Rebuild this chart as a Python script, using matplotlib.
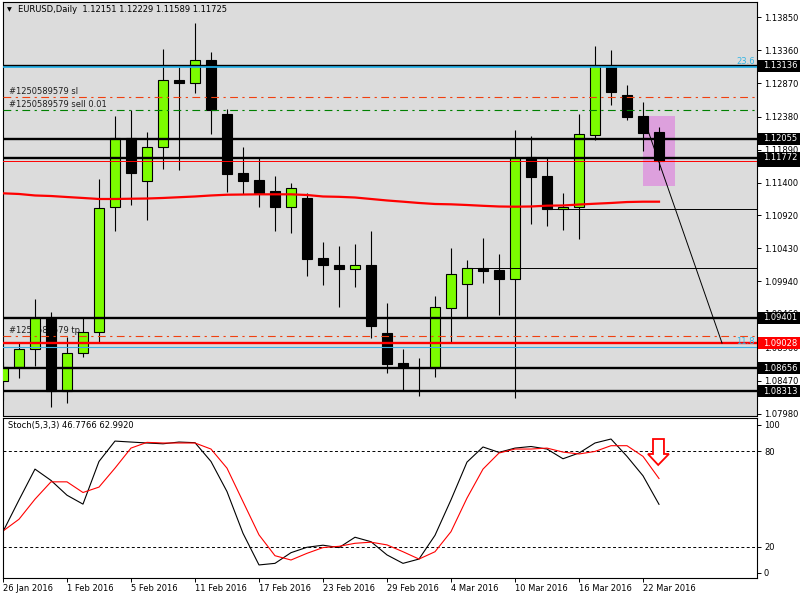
import matplotlib
matplotlib.use('Agg')
import matplotlib.pyplot as plt
from matplotlib.patches import Rectangle, Polygon
import numpy as np
import pandas as pd

# EURUSD daily bars, 26 Jan - 23 Mar 2016
dates = pd.bdate_range('2016-01-26', '2016-03-23')
opens = [1.08472, 1.08679, 1.08936, 1.09395, 1.08324, 1.08877, 1.09188, 1.11038, 1.12059, 1.11432,
         1.11926, 1.12922, 1.12882, 1.13218, 1.12419, 1.11546, 1.11442, 1.11279, 1.11047, 1.11176,
         1.10288, 1.10184, 1.10129, 1.10184, 1.09178, 1.08734, 1.08660, 1.08664, 1.09552, 1.09907,
         1.10135, 1.10106, 1.09981, 1.11787, 1.11501, 1.11008, 1.11047, 1.12112, 1.13129, 1.12700,
         1.12389, 1.12151]
highs = [1.08753, 1.09030, 1.09676, 1.09493, 1.09123, 1.09395, 1.11452, 1.12389, 1.12478, 1.12152,
         1.13381, 1.13119, 1.13761, 1.13336, 1.12493, 1.11930, 1.11772, 1.11501, 1.11398, 1.11250,
         1.10524, 1.10465, 1.10495, 1.10687, 1.09622, 1.08941, 1.08808, 1.09725, 1.10436, 1.10258,
         1.10584, 1.10347, 1.12182, 1.12093, 1.11772, 1.11254, 1.12419, 1.13425, 1.13366, 1.12848,
         1.12596, 1.12229]
lows = [1.08186, 1.08507, 1.08689, 1.08087, 1.08137, 1.08827, 1.09049, 1.10692, 1.11072, 1.10850,
        1.11605, 1.11590, 1.12734, 1.12123, 1.11264, 1.11235, 1.11047, 1.10692, 1.10662, 1.10026,
        1.09892, 1.09567, 1.09863, 1.09108, 1.08590, 1.08334, 1.08245, 1.08531, 1.09049, 1.09404,
        1.09922, 1.09444, 1.08220, 1.10795, 1.10761, 1.10702, 1.10569, 1.12034, 1.12552, 1.12330,
        1.11871, 1.11589]
closes = [1.08679, 1.08936, 1.09395, 1.08324, 1.08877, 1.09188, 1.11023, 1.12059, 1.11550, 1.11926,
          1.12918, 1.12882, 1.13214, 1.12478, 1.11531, 1.11432, 1.11254, 1.11047, 1.11319, 1.10277,
          1.10188, 1.10129, 1.10180, 1.09286, 1.08723, 1.08670, 1.08656, 1.09562, 1.10046, 1.10135,
          1.10095, 1.09981, 1.11772, 1.11491, 1.11008, 1.11047, 1.12123, 1.13129, 1.12749, 1.12374,
          1.12142, 1.11725]
ma = [1.11245, 1.11235, 1.11213, 1.11205, 1.11190, 1.11176, 1.11161, 1.11161, 1.11165, 1.11168,
      1.11176, 1.11187, 1.11198, 1.11213, 1.11224, 1.11227, 1.11230, 1.11230, 1.11230, 1.11220,
      1.11198, 1.11193, 1.11183, 1.11161, 1.11139, 1.11121, 1.11102, 1.11087, 1.11082, 1.11072,
      1.11060, 1.11050, 1.11047, 1.11050, 1.11062, 1.11065, 1.11079, 1.11091, 1.11102, 1.11116,
      1.11121, 1.11121]
stoch_k = [29.6, 49.5, 68.9, 61.8, 52.5, 46.9, 73.7, 86.5, 85.9, 85.3, 84.8, 85.9, 85.5, 73.7,
           54.8, 28.6, 8.7, 9.7, 16.4, 19.8, 21.1, 19.6, 26.1, 23.3, 15.0, 9.7, 12.4, 27.3,
           49.6, 73.3, 82.8, 79.4, 82.1, 83.1, 81.5, 75.4, 79.0, 85.3, 87.8, 76.9, 64.7, 46.7766]
stoch_d = [30.0, 37.4, 50.0, 60.9, 60.9, 54.2, 57.6, 69.5, 82.1, 85.7, 85.3, 85.3, 85.3, 81.5,
           69.5, 48.5, 27.6, 14.5, 11.8, 16.0, 19.6, 20.4, 22.3, 23.0, 21.3, 17.0, 12.4, 17.0,
           29.6, 50.7, 68.9, 79.0, 81.5, 81.5, 82.1, 79.6, 78.4, 80.0, 83.6, 83.6, 76.9, 62.9920]

price_ticks = [1.13850, 1.13360, 1.12870, 1.12380, 1.11890, 1.11400, 1.10920, 1.10430,
               1.09940, 1.09460, 1.08960, 1.08470, 1.07980]
# horizontal levels
thick_levels = [1.13136, 1.12055, 1.11772, 1.09401, 1.08656, 1.08313]
red_level = 1.09028
bid_level = 1.11725
fib_levels = {'23.6': 1.13115, '11.8': 1.08966}
sl_level, sell_level, tp_level = 1.12666, 1.12474, 1.09129
order_id = '#1250589579'
ray_levels = [(34, 1.11008), (29, 1.10135)]
trend = ([40.2, 44.94], [1.12250, 1.09028])
box_x, box_p = (40, 42), (1.11358, 1.12389)
boxed = [(1.13136, 'black'), (1.12055, 'black'), (1.11725, 'black'), (1.11772, 'black'),
         (1.09401, 'black'), (1.09028, 'red'), (1.08656, 'black'), (1.08313, 'black')]

W, H = 800, 600
FS = 6
plt.rcParams['font.family'] = 'DejaVu Sans'


def fig_box(x0, y0, x1, y1):
    return [x0 / W, 1 - y1 / H, (x1 - x0) / W, (y1 - y0) / H]


fig = plt.figure(figsize=(8, 6), dpi=100)
fig.patch.set_facecolor('white')

# --- main price panel ---
ax = fig.add_axes(fig_box(2.5, 2, 757, 415.5))
ax.set_facecolor('#DCDCDC')
ax.set_xlim(-0.03, 47.125)
ax.set_ylim(1.07957, 1.14076)

x = np.arange(len(opens))
o, h, l, c = map(np.array, (opens, highs, lows, closes))
up = c >= o
bottom = np.minimum(o, c)
height = np.maximum(np.abs(c - o), 0.00005)

ax.add_patch(Rectangle((box_x[0], box_p[0]), box_x[1] - box_x[0], box_p[1] - box_p[0],
                       facecolor='#DDA0DD', edgecolor='none', zorder=1))

ax.vlines(x, l, h, color='black', lw=0.8, zorder=3)
ax.bar(x[up], height[up], bottom=bottom[up], width=0.62, color='#7CFC00',
       edgecolor='black', linewidth=0.8, zorder=4)
ax.bar(x[~up], height[~up], bottom=bottom[~up], width=0.62, color='black',
       edgecolor='black', linewidth=0.8, zorder=4)

dashdot = (0, (7, 4, 2, 4))
for lv in thick_levels:
    ax.axhline(lv, color='black', lw=1.7, zorder=5)
ax.axhline(fib_levels['23.6'], color='#22B4EE', lw=1.2, zorder=5)
ax.axhline(fib_levels['11.8'], color='#3AB0E8', lw=0.8, zorder=5)
ax.axhline(red_level, color='red', lw=1.7, zorder=5)
ax.axhline(bid_level, color='red', lw=0.7, zorder=5)
ax.axhline(sl_level, color='#F04010', lw=0.8, ls=dashdot, zorder=5)
ax.axhline(tp_level, color='#F04010', lw=0.8, ls=dashdot, zorder=5)
ax.axhline(sell_level, color='#008000', lw=0.8, ls=dashdot, zorder=5)
for start, lv in ray_levels:
    ax.hlines(lv, start, 47.2, color='black', lw=0.7, zorder=5)
ax.plot(trend[0], trend[1], color='black', lw=0.7, zorder=5)
ax.plot(x, ma, color='red', lw=1.6, zorder=6)

for txt, lv in [('sl', sl_level), ('sell 0.01', sell_level), ('tp', tp_level)]:
    ax.annotate(f'{order_id} {txt}', (0.36, lv), xytext=(0, 1.2), textcoords='offset points',
                fontsize=FS, va='bottom', ha='left', color='#202020', zorder=2)
for name, lv in fib_levels.items():
    ax.annotate(name, (1.0, lv), xycoords=('axes fraction', 'data'), xytext=(-1.5, 1),
                textcoords='offset points', fontsize=FS, ha='right', va='bottom',
                color='#33B5E5', zorder=7)

ax.tick_params(axis='x', bottom=False, labelbottom=False)
ax.yaxis.tick_right()
ax.set_yticks(price_ticks)
ax.set_yticklabels([f'{v:.5f}' for v in price_ticks])
ax.tick_params(axis='y', length=3, width=0.7, pad=2, labelsize=FS, colors='black')
for s in ax.spines.values():
    s.set_linewidth(0.8)

# --- stochastic panel ---
ax2 = fig.add_axes(fig_box(2.5, 418, 757, 578))
ax2.set_facecolor('white')
ax2.set_xlim(-0.03, 47.125)
ax2.set_ylim(0.5, 101)
ax2.axhline(80, color='black', lw=0.7, ls=(0, (3, 2.5)))
ax2.axhline(20, color='black', lw=0.7, ls=(0, (3, 2.5)))
ax2.plot(x, stoch_k, color='black', lw=0.8)
ax2.plot(x, stoch_d, color='red', lw=0.8)

last = x[-1]
arrow = [(last - 0.375, 87.8), (last + 0.31, 87.8), (last + 0.31, 78.4), (last + 0.62, 78.4),
         (last - 0.05, 71.5), (last - 0.69, 78.4), (last - 0.375, 78.4)]
ax2.add_patch(Polygon(arrow, closed=True, facecolor='white', edgecolor='red', lw=1.3, zorder=5))

ax2.text(0.3, 96.5, f'Stoch(5,3,3) {stoch_k[-1]:.4f} {stoch_d[-1]:.4f}', fontsize=FS,
         va='center', ha='left')
ax2.yaxis.tick_right()
ax2.set_yticks([96.8, 80, 20, 3.8])
ax2.set_yticklabels(['100', '80', '20', '0'])
ax2.tick_params(axis='y', length=3, width=0.7, pad=2, labelsize=FS)
tick_idx = list(range(0, len(dates), 4))
ax2.set_xticks(tick_idx)
ax2.set_xticklabels([f"{dates[i].day} {dates[i].strftime('%b %Y')}" for i in tick_idx],
                    ha='left')
ax2.tick_params(axis='x', length=3, width=0.7, pad=1.5, labelsize=FS)
for s in ax2.spines.values():
    s.set_linewidth(0.8)

# header
fig.text(7 / W, 1 - 10 / H, '\u25bc', fontsize=4.5, va='center', ha='left')
fig.text(18 / W, 1 - 10 / H,
         f'EURUSD,Daily  {opens[-1]:.5f} {highs[-1]:.5f} {lows[-1]:.5f} {closes[-1]:.5f}',
         fontsize=FS, va='center', ha='left')

# boxed price labels on the right axis (they cover the plain tick labels, as in MT4)
for k, (lv, col) in enumerate(boxed):
    _, yd = ax.transData.transform((0, lv))
    fig.add_artist(Rectangle((757.5 / W, (yd - 6) / H), 43 / W, 12 / H,
                             transform=fig.transFigure, facecolor=col, edgecolor='none',
                             zorder=10 + 2 * k))
    fig.text(763 / W, yd / H, f'{lv:.5f}', fontsize=FS, color='white', va='center',
             ha='left', zorder=11 + 2 * k)

fig.savefig('out.png', dpi=100)
